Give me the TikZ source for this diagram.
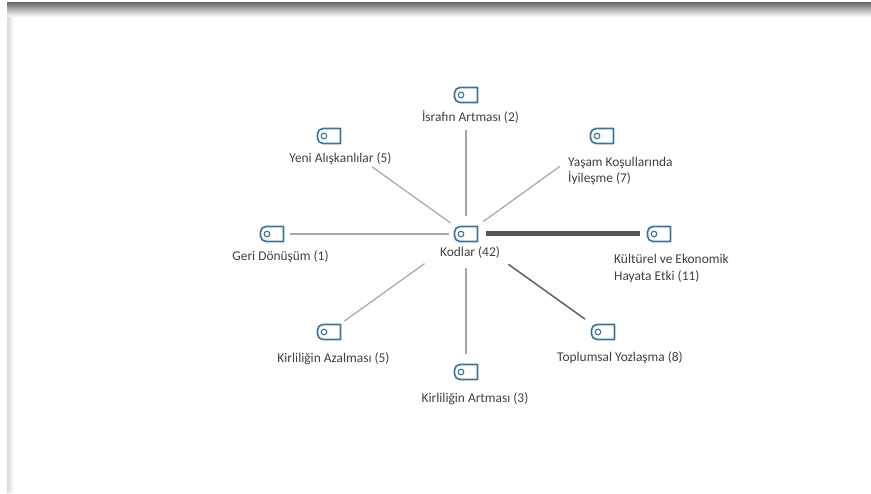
\documentclass[tikz,border=0pt]{standalone}
\usepackage{fontspec}
\setmainfont{Carlito}
\definecolor{tagblue}{HTML}{3F7499}
\definecolor{linegray}{HTML}{A6A6A6}
\definecolor{labelgray}{HTML}{404040}
\tikzset{
  iconnode/.style={inner sep=0pt,minimum width=25pt,minimum height=16pt},
  tagline/.style={draw=tagblue,line width=1.7pt,line join=round},
  labeltext/.style={text=labelgray,font=\fontsize{13.4}{16.5}\selectfont,inner sep=0pt,align=left},
  link/.style={draw=linegray,line width=1.2pt},
  midlink/.style={draw=black!62,line width=1.5pt},
  heavylink/.style={draw=black!66,line width=5pt}
}
\newcommand{\tagicon}[3]{%
  \node[iconnode] (#1) at (#2,#3) {};
  \draw[tagline] (#2+11.5,#3-7.5) -- (#2-6,#3-7.5)
    .. controls (#2-9,#3-7.5) and (#2-11.5,#3-5) .. (#2-11.5,#3-2)
    -- (#2-11.5,#3+2)
    .. controls (#2-11.5,#3+5) and (#2-9,#3+7.5) .. (#2-6,#3+7.5)
    -- (#2+11.5,#3+7.5) -- cycle;
  \draw[tagline,line width=1.2pt] (#2-5,#3) circle[radius=2.8];
}
\begin{document}
\begin{tikzpicture}[x=1pt,y=-1pt]
\useasboundingbox (0,0) rectangle (871,494);
\fill[white] (0,0) rectangle (871,494);
\shade[left color=black!15,right color=white] (7,12) rectangle (14,492);
\shade[top color=black!56,bottom color=black!27] (7,3) rectangle (871,10);
\shade[top color=black!27,bottom color=white] (7,10) rectangle (871,17);
\tagicon{kodlar}{466}{234}
\tagicon{israf}{466}{95}
\tagicon{yeni}{329}{136}
\tagicon{yasam}{602}{136}
\tagicon{geri}{272}{234}
\tagicon{kultur}{659}{234}
\tagicon{azal}{329}{332}
\tagicon{yoz}{603}{332}
\tagicon{art}{466}{372}
\node[labeltext] (lkodlar) at (470,253) {Kodlar (42)};
\node[labeltext] (lisraf) at (470.5,117) {İsrafın Artması (2)};
\node[labeltext] (lyeni) at (340.5,159) {Yeni Alışkanlılar (5)};
\node[labeltext,anchor=west] (lyasam) at (568,171) {Yaşam Koşullarında\\İyileşme (7)};
\node[labeltext] (lgeri) at (280.5,257) {Geri Dönüşüm (1)};
\node[labeltext,anchor=west] (lkultur) at (614,268.5) {Kültürel ve Ekonomik\\Hayata Etki (11)};
\node[labeltext] (lazal) at (333.5,359) {Kirliliğin Azalması (5)};
\node[labeltext] (lyoz) at (620,358) {Toplumsal Yozlaşma (8)};
\node[labeltext] (lart) at (475,399) {Kirliliğin Artması (3)};
\draw[link,shorten <=18pt,shorten >=35pt] (kodlar.center) -- (israf.center);
\draw[link,shorten <=19pt,shorten >=53pt] (kodlar.center) -- (yeni.center);
\draw[link,shorten <=21pt,shorten >=52pt] (kodlar.center) -- (yasam.center);
\draw[link,shorten <=17pt,shorten >=18pt] (kodlar.center) -- (geri.center);
\draw[heavylink,shorten <=20pt,shorten >=19pt] (kodlar.center) -- (kultur.center);
\draw[link,shorten <=51pt,shorten >=19pt] (kodlar.center) -- (azal.center);
\draw[midlink,shorten <=52pt,shorten >=22pt] (kodlar.center) -- (yoz.center);
\draw[link,shorten <=34pt,shorten >=18pt] (kodlar.center) -- (art.center);
\end{tikzpicture}
\end{document}
